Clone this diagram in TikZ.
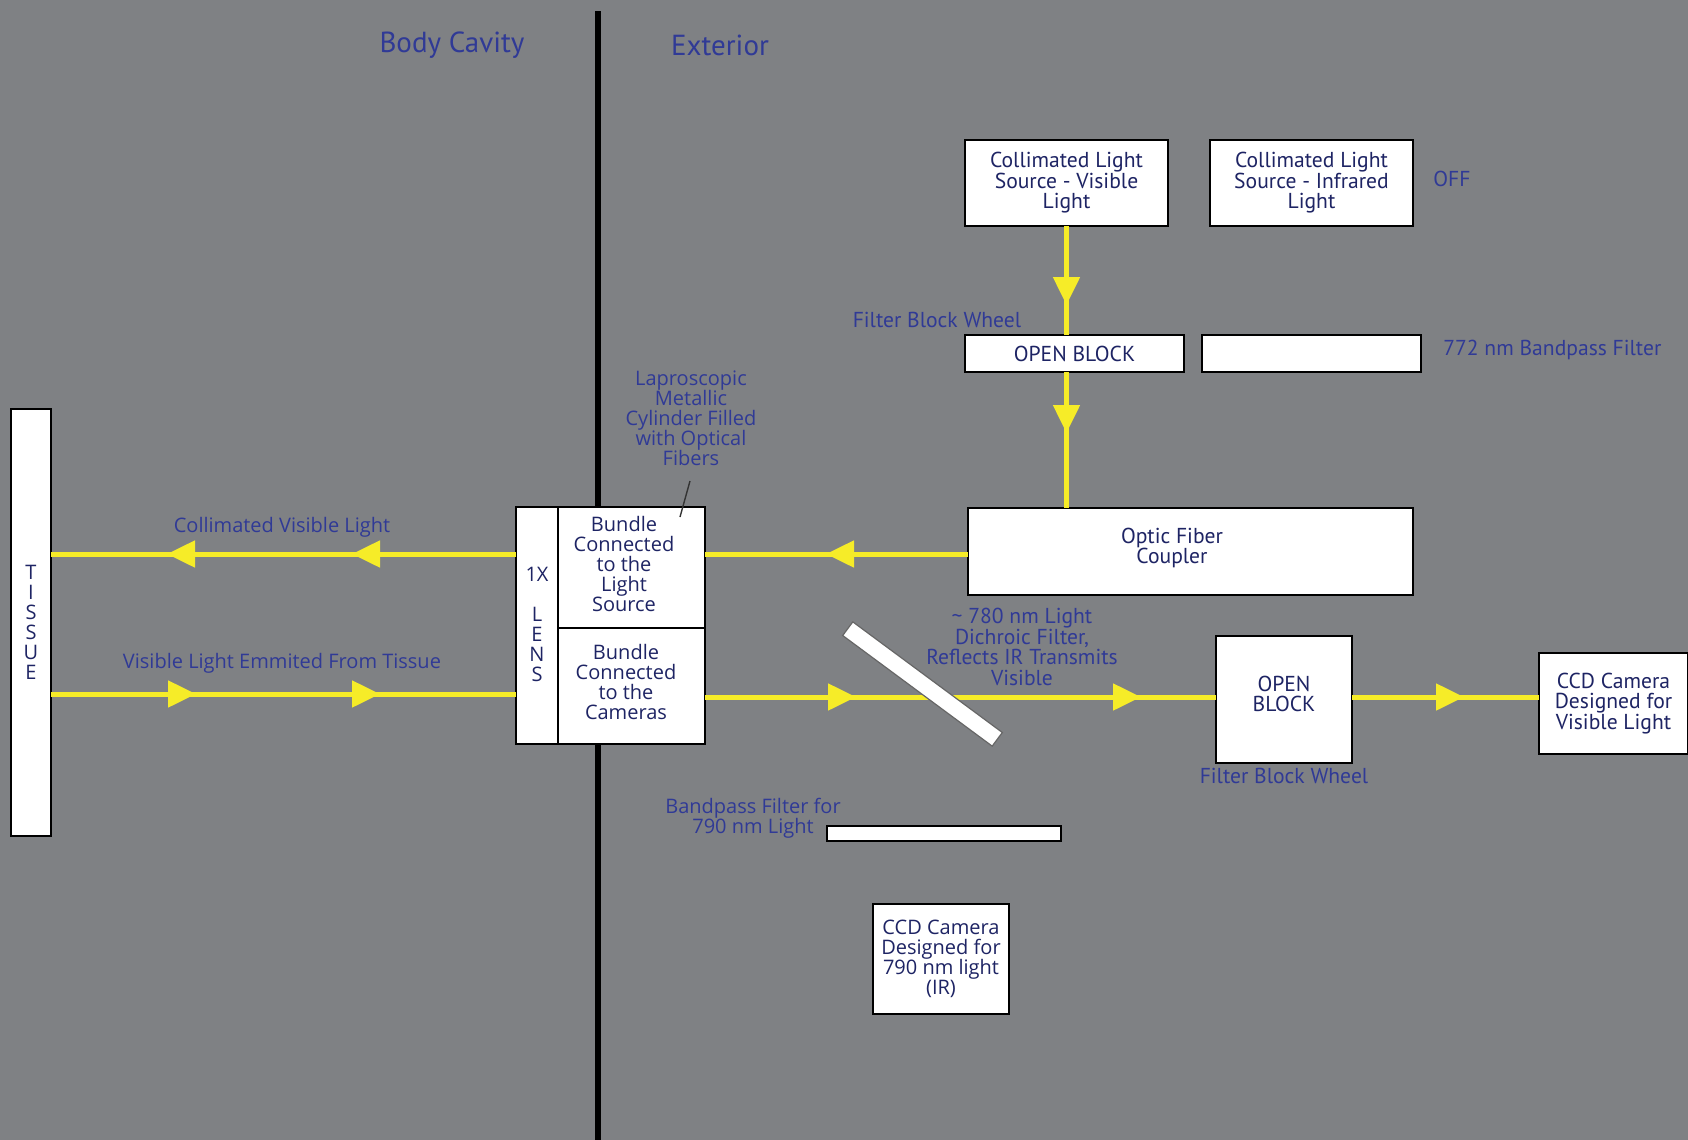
\documentclass[tikz,border=0pt]{standalone}
\usepackage{fontspec}
\newfontfamily\myr{PT Sans}
\newfontfamily\luc{Open Sans}
\usetikzlibrary{arrows.meta,decorations.markings}
\definecolor{bg}{RGB}{127,129,132}
\definecolor{lblue}{RGB}{48,58,150}
\definecolor{navy}{RGB}{30,36,100}
\definecolor{yel}{RGB}{246,236,40}
\tikzset{
  mtxt/.style={font=\myr\fontsize{10.8}{10.25}\selectfont, align=center, inner sep=0pt},
  ltxt/.style={font=\luc\fontsize{10}{10}\selectfont, align=center, inner sep=0pt},
  lab/.style={mtxt, text=lblue},
  llab/.style={ltxt, text=lblue},
  wbox/.style={draw=black, line width=0.9pt, fill=white, inner sep=0pt, outer sep=0pt, text=navy},
  beam/.style={draw=yel, line width=2.5pt},
  tipat/.style={postaction={decorate, decoration={markings,
      mark=at position #1 with {\arrow[yel]{Triangle[length=14pt,width=13pt]}}}}}
}
\begin{document}
\begin{tikzpicture}[x=0.5pt,y=-0.5pt]
% canvas
\fill[bg] (0,0) rectangle (1688,1140);
\useasboundingbox (0,0) rectangle (1688,1140);

% wall between body cavity and exterior
\coordinate (walltop) at (598,11);
\coordinate (wallbot) at (598,1140);
\draw[black, line width=3pt] (walltop) -- (wallbot);

\node[lab, font=\myr\fontsize{14.5}{15}\selectfont] (cavity) at (452,45) {Body Cavity};
\node[lab, font=\myr\fontsize{14.5}{15}\selectfont] (exterior) at (720,45) {Exterior};

% light sources
\node[wbox, mtxt, text=navy, minimum width=101.5pt, minimum height=43pt] (vis) at (1066.5,183)
  {Collimated Light\\Source - Visible\\Light};
\node[wbox, mtxt, text=navy, minimum width=101.5pt, minimum height=43pt] (ir) at (1311.5,183)
  {Collimated Light\\Source - Infrared\\Light};
\node[lab, anchor=west] (off) at (1433,179) {OFF};

% upper filter wheel
\node[lab] (fbw1) at (937,320) {Filter Block Wheel};
\node[wbox, mtxt, text=navy, minimum width=109.5pt, minimum height=18.5pt] (ob1) at (1074.5,353.5) {OPEN BLOCK};
\node[wbox, minimum width=109.5pt, minimum height=18.5pt] (bp1) at (1311.5,353.5) {};
\node[lab, anchor=west] (lbl772) at (1443,350) {772 nm Bandpass Filter};

% coupler
\node[wbox, minimum width=222.5pt, minimum height=43.5pt] (coupler) at (1190.5,551.5) {};
\node[mtxt, text=navy] (couplertxt) at (1172,548) {Optic Fiber\\Coupler};

% laparoscope head
\node[wbox, minimum width=21pt, minimum height=118.5pt] (lens) at (537,625.5) {};
\node[ltxt, text=navy] (lenstxt) at (537,624.5) {1X\\[10pt]L\\E\\N\\S};
\node[wbox, minimum width=73.5pt, minimum height=60.5pt] (bun1) at (631.5,567.5) {};
\node[ltxt, text=navy] (bun1txt) at (624,563.5) {Bundle\\Connected\\to the\\Light\\Source};
\node[wbox, minimum width=73.5pt, minimum height=58pt] (bun2) at (631.5,686) {};
\node[ltxt, text=navy] (bun2txt) at (626,682) {Bundle\\Connected\\to the\\Cameras};
\node[llab] (lapro) at (691,418.5) {Laproscopic\\Metallic\\Cylinder Filled\\with Optical\\Fibers};
\coordinate (leadA) at (690,481);
\coordinate (leadB) at (680,517);

% tissue
\node[wbox, ltxt, text=navy, minimum width=20pt, minimum height=213.5pt] (tissue) at (31,622.5)
  {T\\I\\S\\S\\U\\E};

% lower path
\node[wbox, mtxt, text=navy, minimum width=68pt, minimum height=63.5pt] (ob2) at (1284,699.5) {};
\node[mtxt, text=navy] (ob2txt) at (1284,694) {OPEN\\BLOCK};
\node[lab] (fbw2) at (1284,776) {Filter Block Wheel};
\node[wbox, mtxt, text=navy, minimum width=74.5pt, minimum height=50.5pt] (ccdv) at (1613.5,703.5)
  {CCD Camera\\Designed for\\Visible Light};
\node[lab] (dichlbl) at (1022,647) {\textasciitilde\ 780 nm Light\\Dichroic Filter,\\Reflects IR Transmits\\Visible};

% infrared branch
\node[llab] (bplbl) at (753,818) {Bandpass Filter for\\790 nm Light};
\node[wbox, minimum width=117pt, minimum height=7.5pt] (bp2) at (944,833.5) {};
\node[wbox, ltxt, text=navy, minimum width=68pt, minimum height=55pt] (ccdir) at (941,959)
  {CCD Camera\\Designed for\\790 nm light\\(IR)};

% beam levels
\coordinate (ya) at (0,554);
\coordinate (yb) at (0,694);
\coordinate (yc) at (0,697);

% beams
\draw[beam, tipat=39.5pt] (vis.south) -- (vis.south |- ob1.north);
\draw[beam, tipat=30.5pt] (vis.south |- ob1.south) -- (vis.south |- coupler.north);
\draw[beam, tipat=71pt] (coupler.west |- ya) -- (bun1.east |- ya);
\draw[beam, tipat=82pt, tipat=174.5pt] (lens.west |- ya) -- (tissue.east |- ya);
\draw[beam, tipat=72.5pt, tipat=164.5pt] (tissue.east |- yb) -- (lens.west |- yb);
\draw[beam, tipat=75.5pt, tipat=218pt] (bun2.east |- yc) -- (ob2.west |- yc);
\draw[beam, tipat=56pt] (ob2.east |- yc) -- (ccdv.west |- yc);

% dichroic mirror across the camera beam
\node[draw=black!60, line width=0.6pt, fill=white, minimum width=93pt, minimum height=8.5pt,
  inner sep=0pt, rotate=-36.5] (dich) at (922.5,684) {};

% leader to the fibre bundle
\draw[black!80, line width=0.7pt] (leadA) -- (leadB);

\node[llab] (cvl) at (282,527) {Collimated Visible Light};
\node[llab] (vle) at (282,663) {Visible Light Emmited From Tissue};
\end{tikzpicture}
\end{document}
